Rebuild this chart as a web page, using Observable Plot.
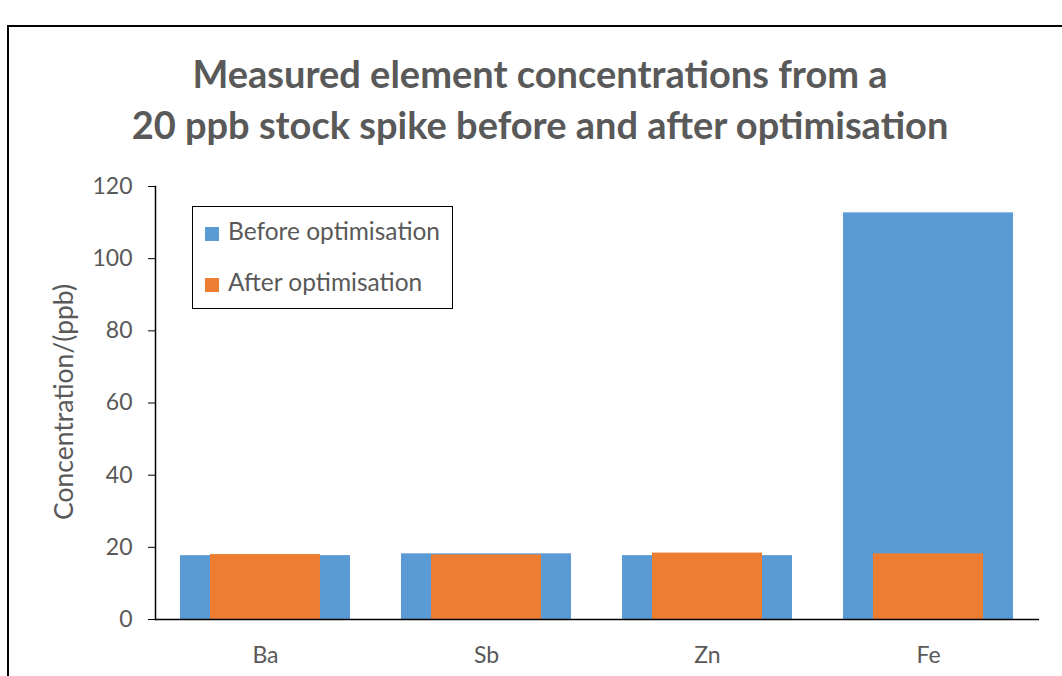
<!DOCTYPE html>
<html><head><meta charset="utf-8">
<script src="https://cdn.jsdelivr.net/npm/d3@7"></script>
<script src="https://cdn.jsdelivr.net/npm/@observablehq/plot@0.6"></script>
<style>
html,body{margin:0;padding:0;background:#fff;overflow:hidden;width:1062px;height:676px}
#wrap{position:relative;width:1062px;height:676px;font-family:Lato,"Open Sans",sans-serif;color:#595959;overflow:hidden}
#frame{position:absolute;left:7px;top:25px;width:1200px;height:800px;border:2px solid #000;box-sizing:border-box;pointer-events:none}
.title{position:absolute;left:0;width:1080px;text-align:center;font-weight:bold;font-size:38px;line-height:1;white-space:nowrap}
#plot{position:absolute;left:0;top:0}
#ylab{position:absolute;left:63px;top:402px;transform:translate(-50%,-50%) rotate(-90deg);font-size:26.5px;line-height:1;white-space:nowrap}
#legend{position:absolute;left:192px;top:206px;width:261px;height:103px;border:1.5px solid #000;box-sizing:border-box;background:#fff}
.item{position:absolute;left:35px;font-size:24.5px;line-height:1;white-space:nowrap}
.sw{position:absolute;left:12px;width:14px;height:14px}
</style></head>
<body>
<div id="wrap">
  <div id="plot"></div>
  <div class="title" style="top:54px">Measured element concentrations from a</div>
  <div class="title" style="top:105px">20 ppb stock spike before and after optimisation</div>
  <div id="ylab">Concentration/(ppb)</div>
  <div id="legend"></div>
  <div id="frame"></div>
</div>
<script>
const elements = ["Ba", "Sb", "Zn", "Fe"];
const beforeValues = [17.7, 18.2, 17.7, 112.7];
const afterValues = [18.0, 17.9, 18.4, 18.2];
const yTicks = [0, 20, 40, 60, 80, 100, 120];
const seriesNames = ["Before optimisation", "After optimisation"];
const seriesColors = ["#5B9BD5", "#ED7D31"];

const before = elements.map((e, i) => ({element: e, value: beforeValues[i]}));
const after = elements.map((e, i) => ({element: e, value: afterValues[i]}));

const chart = Plot.plot({
  width: 1062,
  height: 676,
  marginLeft: 155,
  marginRight: 23,
  marginTop: 186,
  marginBottom: 57,
  style: {fontFamily: "Lato, 'Open Sans', sans-serif", background: "transparent", overflow: "visible"},
  x: {domain: elements, paddingInner: 0.23, paddingOuter: 0.115, align: 0.5},
  y: {domain: [0, 120]},
  marks: [
    Plot.barY(before, {x: "element", y: "value", fill: seriesColors[0]}),
    Plot.barY(after, {x: "element", y: "value", fill: seriesColors[1], insetLeft: 30, insetRight: 30}),
    Plot.axisY({ticks: yTicks, tickSize: 7, tickPadding: 16, fontSize: 23, fill: "#595959", stroke: "#000", label: null}),
    Plot.axisX({tickSize: 0, tickPadding: 27, fontSize: 23, fill: "#595959", label: null}),
    Plot.frame({anchor: "left", stroke: "#000", strokeWidth: 1.5}),
    Plot.ruleY([0], {stroke: "#000", strokeWidth: 1.5})
  ]
});
document.getElementById("plot").appendChild(chart);

const legend = document.getElementById("legend");
const tops = [19, 70];
seriesNames.forEach((name, i) => {
  const sw = document.createElement("div");
  sw.className = "sw";
  sw.style.top = (tops[i] + 1) + "px";
  sw.style.background = seriesColors[i];
  legend.appendChild(sw);
  const t = document.createElement("div");
  t.className = "item";
  t.style.top = (tops[i] - 7) + "px";
  t.textContent = name;
  legend.appendChild(t);
});
</script>
</body></html>
